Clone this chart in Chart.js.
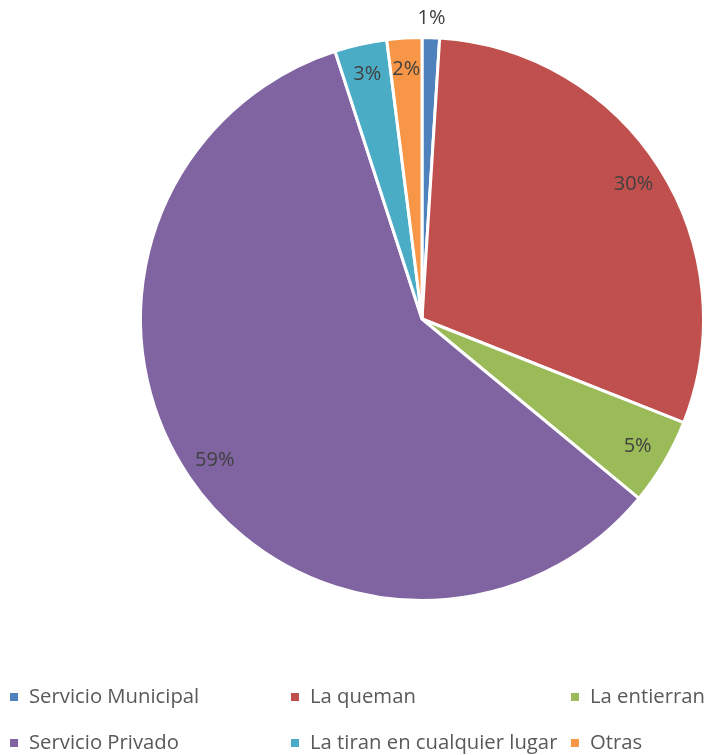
<!DOCTYPE html>
<html>
<head>
<meta charset="utf-8">
<script src="https://cdn.jsdelivr.net/npm/chart.js@4"></script>
<style>
  html, body { margin: 0; padding: 0; background: #fff; }
  #wrap { width: 707px; height: 755px; }
</style>
</head>
<body>
<div id="wrap"><canvas id="pie" width="707" height="755"></canvas></div>
<script>
// datos del gráfico
const categories = ['Servicio Municipal', 'La queman', 'La entierran', 'Servicio Privado', 'La tiran en cualquier lugar', 'Otras'];
const values     = [1, 30, 5, 59, 3, 2];
const colors     = ['#4F81BD', '#C0504D', '#9BBB59', '#8064A2', '#4BACC6', '#F79646'];

const FONT = "'Open Sans', 'Noto Sans', sans-serif";

// etiquetas de porcentaje sobre cada sector
const pctLabels = {
  id: 'pctLabels',
  afterDatasetsDraw(chart) {
    const { ctx } = chart;
    const meta = chart.getDatasetMeta(0);
    const total = values.reduce((a, b) => a + b, 0);
    ctx.save();
    ctx.font = '20px ' + FONT;
    ctx.fillStyle = '#404040';
    ctx.textAlign = 'center';
    ctx.textBaseline = 'middle';
    meta.data.forEach((arc, i) => {
      const p = values[i] / total * 100;
      const mid = (arc.startAngle + arc.endAngle) / 2;
      const r = p < 1.5 ? arc.outerRadius + 19 : arc.outerRadius * 0.89;
      ctx.fillText(Math.round(p) + '%', arc.x + Math.cos(mid) * r, arc.y + Math.sin(mid) * r);
    });
    ctx.restore();
  }
};

// leyenda en rejilla de 3 columnas, como en el original
const gridLegend = {
  id: 'gridLegend',
  afterDraw(chart) {
    const { ctx } = chart;
    const colX = [10, 291, 571];
    const rowY = [697, 743];
    ctx.save();
    ctx.font = '20.3px ' + FONT;
    ctx.textBaseline = 'middle';
    categories.forEach((c, i) => {
      const x = colX[i % 3], y = rowY[Math.floor(i / 3)];
      ctx.fillStyle = colors[i];
      ctx.fillRect(x, y - 4, 8, 8);
      ctx.fillStyle = '#595959';
      ctx.fillText(c, x + 19, y);
    });
    ctx.restore();
  }
};

new Chart(document.getElementById('pie'), {
  type: 'pie',
  data: {
    labels: categories,
    datasets: [{
      data: values,
      backgroundColor: colors,
      borderColor: '#fff',
      borderWidth: 3,
    }],
  },
  options: {
    responsive: false,
    animation: false,
    layout: { padding: { left: 139, right: 2, top: 35, bottom: 152 } },
    plugins: {
      legend: { display: false },
      tooltip: { enabled: false },
    },
  },
  plugins: [pctLabels, gridLegend],
});
</script>
</body>
</html>
